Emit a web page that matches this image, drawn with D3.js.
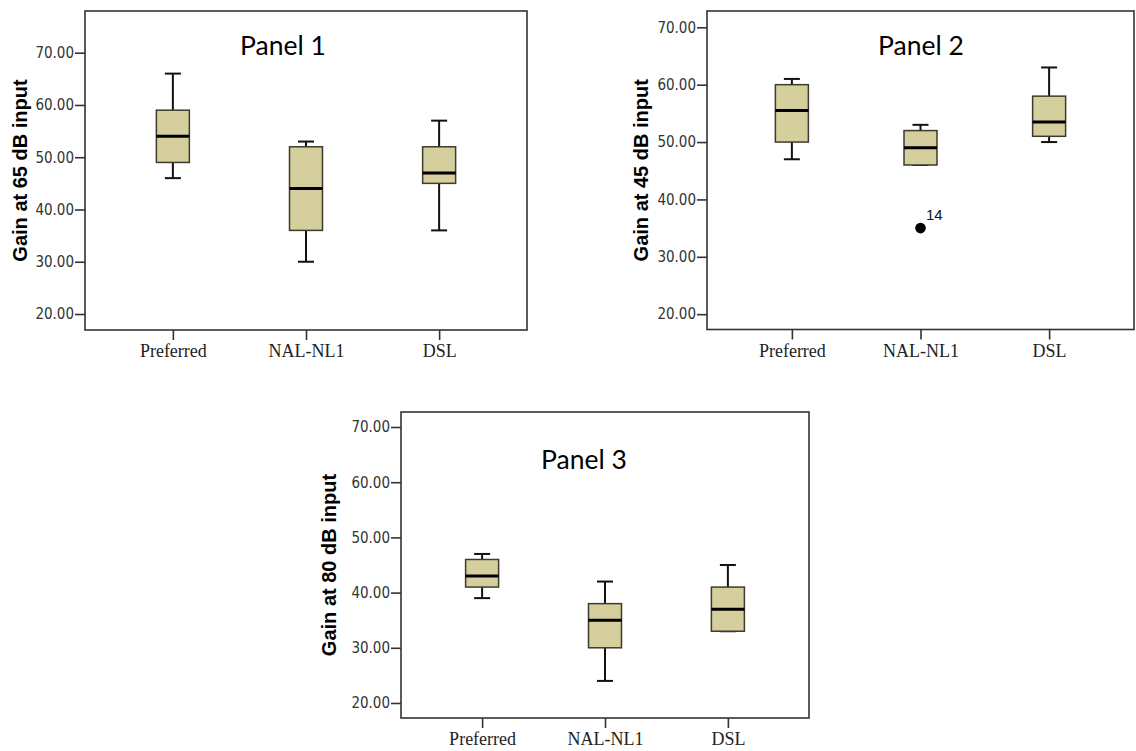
<!DOCTYPE html>
<html>
<head>
<meta charset="utf-8">
<script src="https://cdn.jsdelivr.net/npm/d3@7"></script>
<style>
  html, body { margin: 0; padding: 0; background: #fff; }
  svg { display: block; }
</style>
</head>
<body>
<svg id="chart" width="1136" height="751"></svg>
<script>
// ---- Data ----
const categories = ["Preferred", "NAL-NL1", "DSL"];
const yTicks = [20, 30, 40, 50, 60, 70];

// Panel 1: Gain at 65 dB input
const p1Min = [46, 30, 36];
const p1Q1  = [49, 36, 45];
const p1Med = [54, 44, 47];
const p1Q3  = [59, 52, 52];
const p1Max = [66, 53, 57];

// Panel 2: Gain at 45 dB input
const p2Min = [47, 46, 50];
const p2Q1  = [50, 46, 51];
const p2Med = [55.5, 49, 53.5];
const p2Q3  = [60, 52, 58];
const p2Max = [61, 53, 63];
const p2Outliers = [{ cat: "NAL-NL1", value: 35, label: "14" }];

// Panel 3: Gain at 80 dB input
const p3Min = [39, 24, 33];
const p3Q1  = [41, 30, 33];
const p3Med = [43, 35, 37];
const p3Q3  = [46, 38, 41];
const p3Max = [47, 42, 45];

const panelTitles = ["Panel 1", "Panel 2", "Panel 3"];
const yTitles = ["Gain at 65 dB input", "Gain at 45 dB input", "Gain at 80 dB input"];

// ---- Layout (styles / positions) ----
const panels = [
  { min: p1Min, q1: p1Q1, med: p1Med, q3: p1Q3, max: p1Max, outliers: [],
    left: 85, right: 527, top: 11, bottom: 330, yLo: 16.94, yHi: 77.98,
    title: panelTitles[0], titleX: 283, titleY: 55, ytitle: yTitles[0], ytitleX: 20 },
  { min: p2Min, q1: p2Q1, med: p2Med, q3: p2Q3, max: p2Max, outliers: p2Outliers,
    left: 707, right: 1134, top: 11, bottom: 329.5, yLo: 17.33, yHi: 72.84,
    title: panelTitles[1], titleX: 921, titleY: 55, ytitle: yTitles[1], ytitleX: 641 },
  { min: p3Min, q1: p3Q1, med: p3Med, q3: p3Q3, max: p3Max, outliers: [],
    left: 401, right: 809, top: 412, bottom: 718, yLo: 17.28, yHi: 72.72,
    title: panelTitles[2], titleX: 584, titleY: 469, ytitle: yTitles[2], ytitleX: 329 }
];

const svg = d3.select("#chart");
const boxW = 33, capW = 16;
const boxFill = "#d4cf9c", boxStroke = "#3d3b2c";

panels.forEach(p => {
  const g = svg.append("g");
  const x = d3.scalePoint().domain(categories).range([p.left, p.right]).padding(0.66);
  const y = d3.scaleLinear().domain([p.yLo, p.yHi]).range([p.bottom, p.top]);

  // frame
  g.append("rect")
    .attr("x", p.left).attr("y", p.top)
    .attr("width", p.right - p.left).attr("height", p.bottom - p.top)
    .attr("fill", "none").attr("stroke", "#333").attr("stroke-width", 1.6);

  // y axis
  const yAxis = d3.axisLeft(y).tickValues(yTicks).tickSize(10).tickSizeOuter(0)
    .tickFormat(d3.format(".2f"));
  const ya = g.append("g").attr("transform", `translate(${p.left},0)`).call(yAxis);
  ya.select(".domain").remove();
  ya.selectAll(".tick line").attr("stroke", "#333").attr("stroke-width", 1.6);
  ya.selectAll(".tick text")
    .attr("x", -11)
    .attr("fill", "#333")
    .style("font-family", "'Liberation Sans Narrow','DejaVu Sans Condensed',Arial,sans-serif")
    .style("font-size", "15px");

  // x axis
  const xAxis = d3.axisBottom(x).tickSize(10).tickSizeOuter(0);
  const xa = g.append("g").attr("transform", `translate(0,${p.bottom})`).call(xAxis);
  xa.select(".domain").remove();
  xa.selectAll(".tick line").attr("stroke", "#333").attr("stroke-width", 1.6);
  xa.selectAll(".tick text")
    .attr("y", 27).attr("dy", 0)
    .attr("fill", "#222")
    .style("font-family", "'Liberation Serif','Times New Roman',serif")
    .style("font-size", "18px");

  // boxes
  const data = categories.map((c, i) => ({
    cat: c, min: p.min[i], q1: p.q1[i], med: p.med[i], q3: p.q3[i], max: p.max[i]
  }));
  const bg = g.selectAll(".box").data(data).join("g").attr("class", "box");

  // whiskers
  bg.append("line")
    .attr("x1", d => x(d.cat)).attr("x2", d => x(d.cat))
    .attr("y1", d => y(d.max)).attr("y2", d => y(d.q3))
    .attr("stroke", "#111").attr("stroke-width", 2);
  bg.append("line")
    .attr("x1", d => x(d.cat)).attr("x2", d => x(d.cat))
    .attr("y1", d => y(d.q1)).attr("y2", d => y(d.min))
    .attr("stroke", "#111").attr("stroke-width", 2);
  // caps
  bg.append("line")
    .attr("x1", d => x(d.cat) - capW / 2).attr("x2", d => x(d.cat) + capW / 2)
    .attr("y1", d => y(d.max)).attr("y2", d => y(d.max))
    .attr("stroke", "#111").attr("stroke-width", 2);
  bg.append("line")
    .attr("x1", d => x(d.cat) - capW / 2).attr("x2", d => x(d.cat) + capW / 2)
    .attr("y1", d => y(d.min)).attr("y2", d => y(d.min))
    .attr("stroke", "#111").attr("stroke-width", 2);
  // box
  bg.append("rect")
    .attr("x", d => x(d.cat) - boxW / 2)
    .attr("y", d => y(d.q3))
    .attr("width", boxW)
    .attr("height", d => y(d.q1) - y(d.q3))
    .attr("fill", boxFill).attr("stroke", boxStroke).attr("stroke-width", 1.5);
  // median
  bg.append("line")
    .attr("x1", d => x(d.cat) - boxW / 2).attr("x2", d => x(d.cat) + boxW / 2)
    .attr("y1", d => y(d.med)).attr("y2", d => y(d.med))
    .attr("stroke", "#000").attr("stroke-width", 3);

  // outliers
  const og = g.selectAll(".outlier").data(p.outliers).join("g").attr("class", "outlier");
  og.append("circle")
    .attr("cx", d => x(d.cat)).attr("cy", d => y(d.value)).attr("r", 5.3)
    .attr("fill", "#000");
  og.append("text")
    .attr("x", d => x(d.cat) + 5.5).attr("y", d => y(d.value) - 8.5)
    .text(d => d.label)
    .attr("fill", "#111")
    .style("font-family", "'Liberation Sans',Arial,sans-serif")
    .style("font-size", "15px");

  // panel title
  g.append("text")
    .attr("x", p.titleX).attr("y", p.titleY)
    .attr("text-anchor", "middle")
    .text(p.title)
    .attr("fill", "#000")
    .style("font-family", "Lato,'Open Sans',sans-serif")
    .style("font-size", "26.5px");

  // y title
  g.append("text")
    .attr("transform", `translate(${p.ytitleX},${(p.top + p.bottom) / 2}) rotate(-90)`)
    .attr("text-anchor", "middle")
    .attr("dy", "0.35em")
    .text(p.ytitle)
    .attr("fill", "#000")
    .style("font-family", "'Liberation Sans',Arial,sans-serif")
    .style("font-weight", "bold")
    .style("font-size", "20px");
});
</script>
</body>
</html>
